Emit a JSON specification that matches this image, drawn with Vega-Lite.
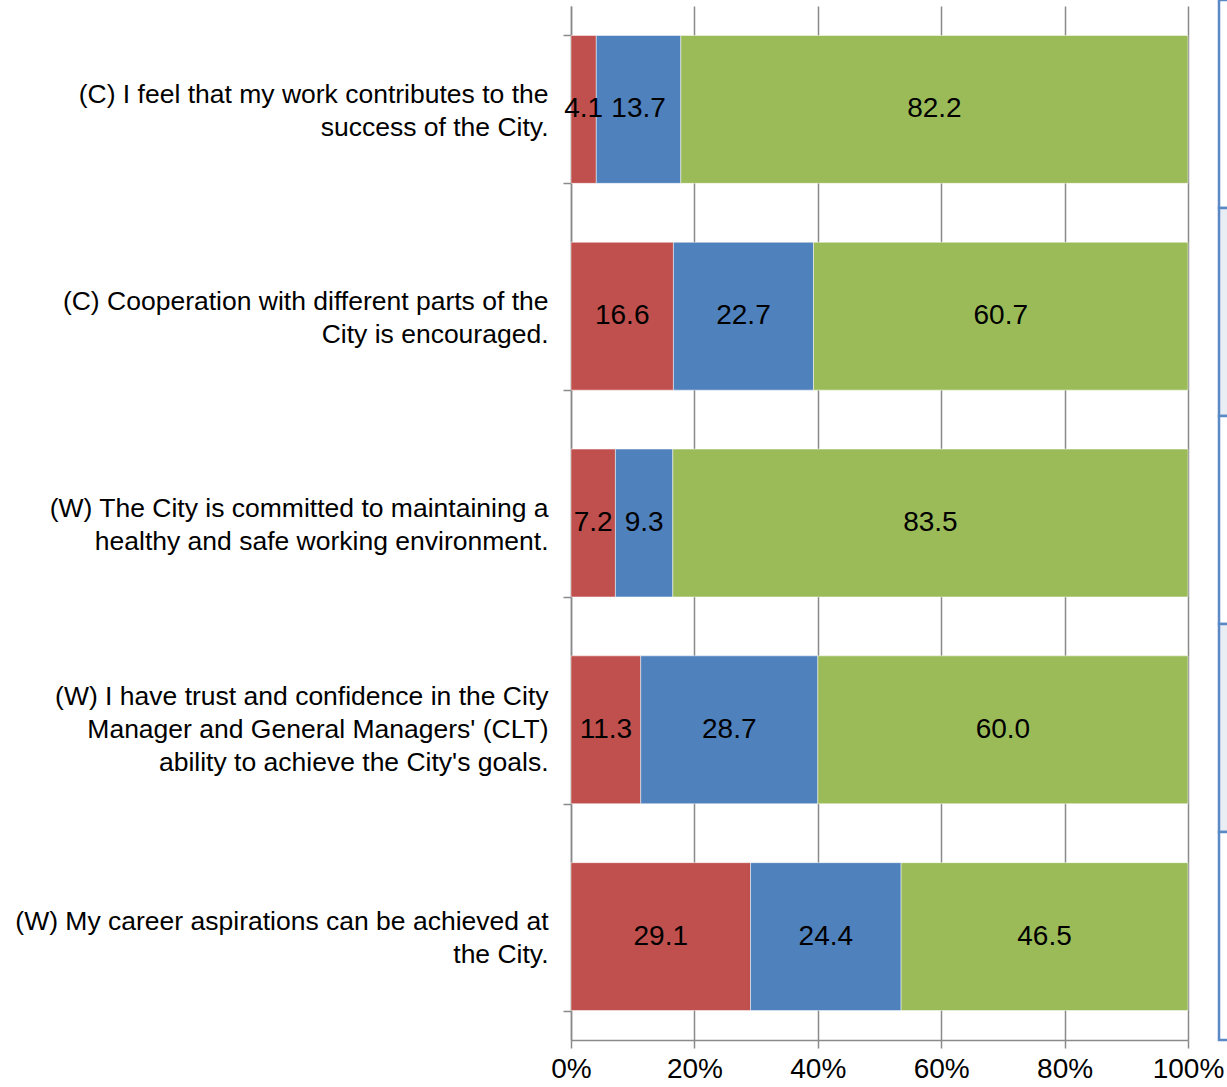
{
  "$schema": "https://vega.github.io/schema/vega-lite/v6.json",
  "width": 617,
  "height": 1034,
  "autosize": {"type": "none"},
  "padding": {"left": 571, "top": 6, "right": 39, "bottom": 47},
  "background": "white",
  "config": {"view": {"stroke": null}, "font": "Liberation Sans"},
  "data": {
    "values": [
      {"q": "(C) I feel that my work contributes to the|success of the City.", "r": "Unfavourable", "o": 1, "v": 4.1},
      {"q": "(C) I feel that my work contributes to the|success of the City.", "r": "Neutral", "o": 2, "v": 13.7},
      {"q": "(C) I feel that my work contributes to the|success of the City.", "r": "Favourable", "o": 3, "v": 82.2},
      {"q": "(C) Cooperation with different parts of the|City is encouraged.", "r": "Unfavourable", "o": 1, "v": 16.6},
      {"q": "(C) Cooperation with different parts of the|City is encouraged.", "r": "Neutral", "o": 2, "v": 22.7},
      {"q": "(C) Cooperation with different parts of the|City is encouraged.", "r": "Favourable", "o": 3, "v": 60.7},
      {"q": "(W) The City is committed to maintaining a|healthy and safe working environment.", "r": "Unfavourable", "o": 1, "v": 7.2},
      {"q": "(W) The City is committed to maintaining a|healthy and safe working environment.", "r": "Neutral", "o": 2, "v": 9.3},
      {"q": "(W) The City is committed to maintaining a|healthy and safe working environment.", "r": "Favourable", "o": 3, "v": 83.5},
      {"q": "(W) I have trust and confidence in the City|Manager and General Managers' (CLT)|ability to achieve the City's goals.", "r": "Unfavourable", "o": 1, "v": 11.3},
      {"q": "(W) I have trust and confidence in the City|Manager and General Managers' (CLT)|ability to achieve the City's goals.", "r": "Neutral", "o": 2, "v": 28.7},
      {"q": "(W) I have trust and confidence in the City|Manager and General Managers' (CLT)|ability to achieve the City's goals.", "r": "Favourable", "o": 3, "v": 60.0},
      {"q": "(W) My career aspirations can be achieved at|the City.", "r": "Unfavourable", "o": 1, "v": 29.1},
      {"q": "(W) My career aspirations can be achieved at|the City.", "r": "Neutral", "o": 2, "v": 24.4},
      {"q": "(W) My career aspirations can be achieved at|the City.", "r": "Favourable", "o": 3, "v": 46.5}
    ]
  },
  "resolve": {"scale": {"y": "independent", "x": "independent"}, "axis": {"x": "independent", "y": "independent"}},
  "layer": [
    {
      "encoding": {
        "y": {
          "field": "q",
          "type": "nominal",
          "sort": null,
          "scale": {"paddingInner": 0.285, "paddingOuter": 0.1425},
          "axis": {
            "title": null,
            "labelExpr": "split(datum.label, '|')",
            "labelFontSize": 26.5,
            "labelLineHeight": 33,
            "labelLimit": 700,
            "labelPadding": 15,
            "labelColor": "black",
            "labelOffset": {"condition": {"test": "indexof(datum.label, 'CLT') >= 0", "value": -33}, "value": -15},
            "tickBand": "extent",
            "tickSize": 8,
            "tickColor": "#8a8a8a",
            "tickWidth": 1.5,
            "domainColor": "#8a8a8a",
            "domainWidth": 1.5,
            "grid": false
          }
        },
        "x": {
          "field": "v",
          "type": "quantitative",
          "stack": "zero",
          "scale": {"domain": [0, 100]},
          "axis": {
            "title": null,
            "values": [0, 20, 40, 60, 80, 100],
            "labelExpr": "datum.value + '%'",
            "labelFontSize": 28,
            "labelFlush": false,
            "labelColor": "black",
            "labelPadding": 7,
            "tickSize": 8,
            "tickColor": "#8a8a8a",
            "tickWidth": 1.5,
            "domainColor": "#8a8a8a",
            "domainWidth": 1.5,
            "grid": true,
            "gridColor": "#8a8a8a",
            "gridWidth": 1.5
          }
        },
        "order": {"field": "o", "type": "quantitative"}
      },
      "layer": [
        {
          "mark": {"type": "bar", "stroke": "white", "strokeWidth": 0.8, "strokeOpacity": 0.6},
          "encoding": {
            "color": {
              "field": "r",
              "type": "nominal",
              "scale": {"domain": ["Unfavourable", "Neutral", "Favourable"], "range": ["#C0504D", "#4F81BD", "#9BBB59"]},
              "legend": null
            }
          }
        },
        {
          "mark": {"type": "text", "fontSize": 28, "color": "black", "baseline": "middle", "align": "center"},
          "encoding": {
            "x": {"field": "v", "type": "quantitative", "stack": "zero", "bandPosition": 0.5},
            "detail": {"field": "r"},
            "text": {"field": "v", "type": "quantitative", "format": ".1f"}
          }
        }
      ]
    },
    {
      "transform": [{"filter": "datum.o == 3"}],
      "mark": {"type": "rect", "stroke": "#5A89C6", "strokeWidth": 2.5},
      "encoding": {
        "x": {"datum": 0, "type": "quantitative", "scale": {"domain": [0, 1], "range": [648, 680]}, "axis": null},
        "x2": {"datum": 1},
        "y": {
          "field": "q",
          "type": "nominal",
          "sort": null,
          "scale": {"paddingInner": 0, "paddingOuter": 0, "range": [-6, 1034]},
          "axis": null
        },
        "fill": {
          "field": "q",
          "type": "nominal",
          "sort": null,
          "scale": {"range": ["#FFFFFF", "#E9EDF4", "#FFFFFF", "#E9EDF4", "#FFFFFF"]},
          "legend": null
        }
      }
    }
  ]
}
